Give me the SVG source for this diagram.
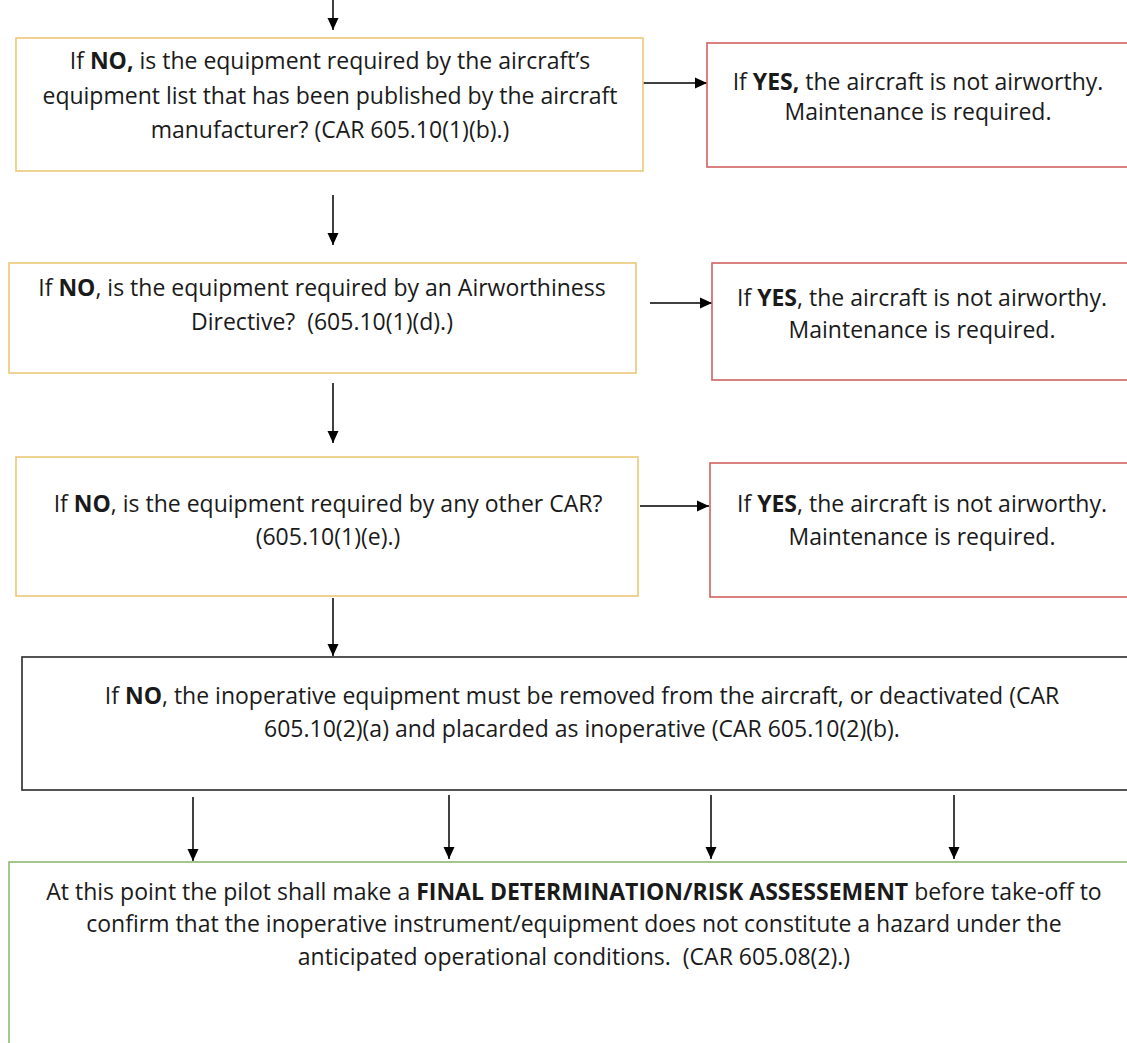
<svg xmlns="http://www.w3.org/2000/svg" width="1127" height="1043" viewBox="0 0 1127 1043">
<style>
text{font-family:"Open Sans","Liberation Sans",sans-serif;font-size:23px;fill:#1a1a1a;text-anchor:middle}
.b{font-weight:bold}
.box{fill:#ffffff;stroke-width:1.6}
.y{stroke:#EAC877}
.r{stroke:#D0625F}
.k{stroke:#2a2a2a}
.g{stroke:#8DB870}
.c{stroke:#000;stroke-width:1.5;fill:none}
</style>
<defs>
<marker id="ah" markerUnits="userSpaceOnUse" markerWidth="12" markerHeight="12" viewBox="0 0 12 12" refX="12" refY="6" orient="auto">
<path d="M0,0.5 L12,6 L0,11.5 Z" fill="#000"/>
</marker>
</defs>
<rect width="1127" height="1043" fill="#ffffff"/>
<g id="connectors">
<line class="c" x1="333" y1="0" x2="333" y2="30" marker-end="url(#ah)"/>
<line class="c" x1="643" y1="83" x2="707" y2="83" marker-end="url(#ah)"/>
<line class="c" x1="333" y1="195" x2="333" y2="245" marker-end="url(#ah)"/>
<line class="c" x1="650" y1="303" x2="712" y2="303" marker-end="url(#ah)"/>
<line class="c" x1="333" y1="383" x2="333" y2="443" marker-end="url(#ah)"/>
<line class="c" x1="640" y1="506" x2="709" y2="506" marker-end="url(#ah)"/>
<line class="c" x1="333" y1="598" x2="333" y2="656" marker-end="url(#ah)"/>
<line class="c" x1="193" y1="797" x2="193" y2="861" marker-end="url(#ah)"/>
<line class="c" x1="449" y1="795" x2="449" y2="859" marker-end="url(#ah)"/>
<line class="c" x1="711" y1="795" x2="711" y2="859" marker-end="url(#ah)"/>
<line class="c" x1="954" y1="795" x2="954" y2="859" marker-end="url(#ah)"/>
</g>
<g id="q1">
<rect class="box y" x="16" y="38" width="627" height="133"/>
<text x="330" y="69">If <tspan class="b">NO,</tspan> is the equipment required by the aircraft’s</text>
<text x="330" y="104">equipment list that has been published by the aircraft</text>
<text x="330" y="138">manufacturer? (CAR 605.10(1)(b).)</text>
</g>
<g id="y1">
<rect class="box r" x="707" y="43" width="430" height="124"/>
<text x="918" y="90">If <tspan class="b">YES,</tspan> the aircraft is not airworthy.</text>
<text x="918" y="120">Maintenance is required.</text>
</g>
<g id="q2">
<rect class="box y" x="9" y="263" width="627" height="110"/>
<text x="322" y="296">If <tspan class="b">NO</tspan>, is the equipment required by an Airworthiness</text>
<text x="322" y="330">Directive?&#160; (605.10(1)(d).)</text>
</g>
<g id="y2">
<rect class="box r" x="712" y="263" width="425" height="117"/>
<text x="922" y="306">If <tspan class="b">YES</tspan>, the aircraft is not airworthy.</text>
<text x="922" y="338">Maintenance is required.</text>
</g>
<g id="q3">
<rect class="box y" x="16" y="457" width="622" height="139"/>
<text x="328" y="512">If <tspan class="b">NO</tspan>, is the equipment required by any other CAR?</text>
<text x="328" y="545">(605.10(1)(e).)</text>
</g>
<g id="y3">
<rect class="box r" x="710" y="463" width="427" height="134"/>
<text x="922" y="512">If <tspan class="b">YES</tspan>, the aircraft is not airworthy.</text>
<text x="922" y="545">Maintenance is required.</text>
</g>
<g id="remove">
<rect class="box k" x="22" y="657" width="1120" height="133"/>
<text x="582" y="704">If <tspan class="b">NO</tspan>, the inoperative equipment must be removed from the aircraft, or deactivated (CAR</text>
<text x="582" y="737">605.10(2)(a) and placarded as inoperative (CAR 605.10(2)(b).</text>
</g>
<g id="final">
<rect class="box g" x="9" y="862" width="1130" height="200"/>
<text x="574" y="900">At this point the pilot shall make a <tspan class="b">FINAL DETERMINATION/RISK ASSESSEMENT</tspan> before take-off to</text>
<text x="574" y="932">confirm that the inoperative instrument/equipment does not constitute a hazard under the</text>
<text x="574" y="965">anticipated operational conditions.&#160; (CAR 605.08(2).)</text>
</g>
</svg>
